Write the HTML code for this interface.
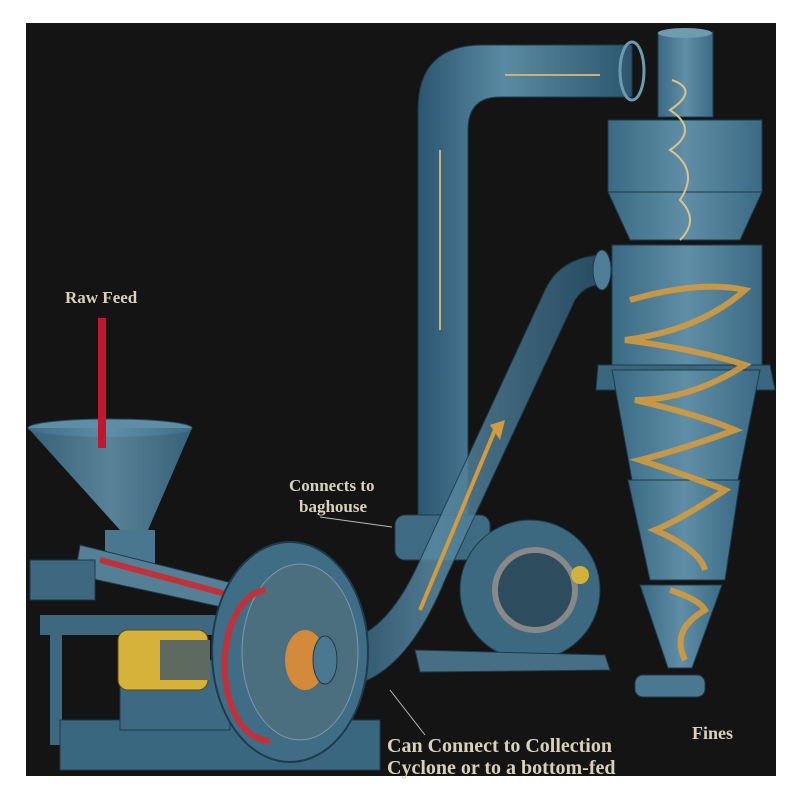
<!DOCTYPE html>
<html><head><meta charset="utf-8"><style>
html,body{margin:0;padding:0;background:#fff;width:800px;height:800px;overflow:hidden}
svg{display:block}
text{font-family:"Liberation Serif",serif;font-weight:bold;fill:#d9d1ba}
</style></head><body>
<svg width="800" height="800" viewBox="0 0 800 800">
<defs>
<linearGradient id="pv" x1="0" x2="1"><stop offset="0" stop-color="#2b5570"/><stop offset=".4" stop-color="#5a8aa3"/><stop offset="1" stop-color="#2c566f"/></linearGradient>
<linearGradient id="cy" x1="0" x2="1"><stop offset="0" stop-color="#3a6983"/><stop offset=".5" stop-color="#5f8ea6"/><stop offset="1" stop-color="#3b6a84"/></linearGradient>
</defs>
<rect x="26" y="23" width="750" height="753" fill="#141414"/>
<path d="M418 535 V110 Q418 45 483 45 H632 V97 H500 Q468 97 468 130 V535 Z" fill="url(#pv)" stroke="#1e3a4c"/>
<ellipse cx="632" cy="71" rx="12" ry="29" fill="none" stroke="#6e9ab0" stroke-width="3"/>
<path d="M440 150 V330 M505 75 H600" stroke="#c9b27a" stroke-width="2" fill="none"/>
<rect x="658" y="32" width="55" height="85" fill="url(#cy)" stroke="#1e3a4c"/>
<ellipse cx="685" cy="33" rx="27" ry="5" fill="#6f9bb1"/>
<rect x="608" y="120" width="154" height="72" fill="url(#cy)" stroke="#1e3a4c"/>
<polygon points="608,192 762,192 740,240 630,240" fill="url(#cy)" stroke="#1e3a4c"/>
<rect x="612" y="245" width="150" height="125" fill="url(#cy)" stroke="#1e3a4c"/>
<polygon points="598,365 770,365 775,390 596,390" fill="#3a6780" stroke="#1e3a4c"/>
<polygon points="612,370 760,370 738,480 632,480" fill="url(#cy)" stroke="#1e3a4c"/>
<polygon points="628,480 740,480 725,580 650,580" fill="url(#cy)" stroke="#1e3a4c"/>
<polygon points="640,585 722,585 692,668 668,668" fill="url(#cy)" stroke="#1e3a4c"/>
<rect x="635" y="675" width="70" height="22" rx="8" fill="#4a7890" stroke="#1e3a4c"/>
<path d="M630 300 Q700 280 745 290 Q700 330 625 340 Q700 350 745 365 Q690 400 635 400 Q700 415 735 430 Q680 450 640 460 Q700 480 725 490 Q680 520 655 530 Q700 550 705 570 M670 590 Q700 600 705 610 Q670 630 685 660" stroke="#d39a3e" stroke-width="6" fill="none" opacity=".9"/>
<path d="M672 80 Q700 90 670 110 Q700 130 670 150 Q700 170 680 200 Q700 220 680 240" stroke="#d8c48a" stroke-width="2" fill="none"/>
<rect x="395" y="515" width="95" height="45" rx="10" fill="#3e6b83" stroke="#1e3a4c"/>
<circle cx="530" cy="590" r="70" fill="#3c6880" stroke="#1e3a4c"/>
<circle cx="535" cy="590" r="40" fill="#2d4c5e" stroke="#888" stroke-width="6"/>
<circle cx="580" cy="575" r="9" fill="#d4b13a"/>
<polygon points="415,650 605,655 610,670 420,672" fill="#466f86" stroke="#1e3a4c"/>
<path d="M325 640 Q380 650 420 560 L545 290 Q560 258 600 255 V285 Q585 285 575 300 L445 580 Q400 690 330 688 Z" fill="url(#pv)" opacity=".85" stroke="#1e3a4c"/>
<ellipse cx="602" cy="270" rx="9" ry="20" fill="#4e7d95" stroke="#1e3a4c"/>
<path d="M420 610 L495 430" stroke="#d39a3e" stroke-width="4"/>
<polygon points="490,425 505,420 500,440" fill="#d39a3e"/>
<ellipse cx="110" cy="428" rx="82" ry="9" fill="#5e8ea6" stroke="#2a4b5e"/>
<polygon points="28,428 192,428 148,530 120,530" fill="url(#cy)" opacity=".9"/>
<rect x="98" y="318" width="8" height="130" fill="#c0162e"/>
<rect x="105" y="530" width="50" height="40" fill="#4a7790"/>
<path d="M80 545 L240 585 L235 610 L75 575 Z" fill="#557f95" stroke="#1e3a4c"/>
<path d="M100 560 L230 595" stroke="#c2303a" stroke-width="6"/>
<rect x="30" y="560" width="65" height="40" fill="#3e6880" stroke="#1e3a4c"/>
<rect x="40" y="615" width="220" height="20" fill="#3d6880"/>
<rect x="50" y="635" width="12" height="110" fill="#3d6880"/>
<rect x="60" y="720" width="320" height="50" fill="#3a6780" stroke="#1e3a4c"/>
<rect x="120" y="660" width="110" height="70" fill="#3d6a82" stroke="#1e3a4c"/>
<rect x="118" y="630" width="90" height="60" rx="10" fill="#d6b23b" stroke="#5a4a10"/>
<rect x="160" y="640" width="50" height="40" fill="#5e6a60"/>
<ellipse cx="290" cy="652" rx="78" ry="110" fill="#3f6d86" stroke="#1e3a4c" stroke-width="2"/>
<ellipse cx="300" cy="652" rx="58" ry="88" fill="#4b6f7e" stroke="#7a9aa8"/>
<path d="M265 590 A40 70 0 0 0 270 740" stroke="#c2303a" stroke-width="6" fill="none"/>
<ellipse cx="305" cy="660" rx="20" ry="30" fill="#d38a3a"/>
<ellipse cx="325" cy="660" rx="12" ry="24" fill="#4a7890" stroke="#1e3a4c"/>
<line x1="320" y1="517" x2="392" y2="527" stroke="#bbb" stroke-width="1"/>
<line x1="390" y1="690" x2="425" y2="735" stroke="#bbb" stroke-width="1"/>
<text x="65" y="303" font-size="17">Raw Feed</text>
<text x="289" y="491" font-size="17">Connects to</text>
<text x="299" y="512" font-size="17">baghouse</text>
<text x="387" y="752" font-size="20">Can Connect to Collection</text>
<text x="387" y="774" font-size="20">Cyclone or to a bottom-fed</text>
<text x="692" y="739" font-size="18">Fines</text>
</svg>
</body></html>
